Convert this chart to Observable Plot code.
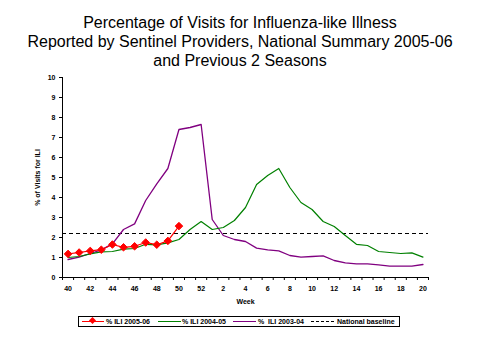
<!DOCTYPE html>
<html><head><meta charset="utf-8">
<script src="https://cdn.jsdelivr.net/npm/d3@7"></script>
<script src="https://cdn.jsdelivr.net/npm/@observablehq/plot@0.6"></script>
<style>
body{margin:0;background:#fff;font-family:"Liberation Sans",Arial,sans-serif;}
#wrap{width:480px;height:360px;position:relative;overflow:hidden;}
#title{height:70px;box-sizing:border-box;padding-top:13px;text-align:center;font-size:16px;line-height:19px;color:#000;}
#chart svg{display:block;}
#legend{position:absolute;left:78px;top:316px;width:320px;height:9px;border:1px solid #000;font-size:7px;font-weight:bold;line-height:9px;}
#legend .sw{position:absolute;top:4px;height:0;border-top:1px solid;}
#legend .tx{position:absolute;top:0;white-space:pre;}
#legend .dm{position:absolute;top:1px;width:5px;height:5px;background:#f00;transform:rotate(45deg);}
</style></head><body>
<div id="wrap">
<div id="title">Percentage of Visits for Influenza-like Illness<br>Reported by Sentinel Providers, National Summary 2005-06<br>and Previous 2 Seasons</div>
<div id="chart"></div>
<div id="legend">
  <div class="sw" style="left:3px;width:22px;border-color:#f00"></div><div class="dm" style="left:11px"></div>
  <div class="tx" style="left:27px">% ILI 2005-06</div>
  <div class="sw" style="left:79px;width:23px;border-color:#008000"></div>
  <div class="tx" style="left:103px">% ILI 2004-05</div>
  <div class="sw" style="left:154px;width:23px;border-color:#800080"></div>
  <div class="tx" style="left:179px">%  ILI 2003-04</div>
  <div class="sw" style="left:232px;width:23px;border-top:1px dashed #000"></div>
  <div class="tx" style="left:258px">National baseline</div>
</div>
</div>
<script>
const weeks = [40,41,42,43,44,45,46,47,48,49,50,51,52,1,2,3,4,5,6,7,8,9,10,11,12,13,14,15,16,17,18,19,20];
const ili0506 = [1.18,1.25,1.33,1.39,1.65,1.51,1.56,1.75,1.64,1.83,2.57];
const ili0405 = [1.0,1.05,1.18,1.28,1.3,1.42,1.45,1.66,1.63,1.73,1.9,2.4,2.8,2.4,2.5,2.85,3.5,4.65,5.1,5.45,4.5,3.75,3.4,2.8,2.55,2.1,1.66,1.6,1.3,1.25,1.2,1.23,1.02];
const ili0304 = [0.9,1.02,1.2,1.38,1.68,2.4,2.68,3.85,4.68,5.45,7.4,7.5,7.65,2.9,2.1,1.9,1.8,1.47,1.38,1.33,1.1,1.02,1.05,1.08,0.85,0.73,0.68,0.68,0.63,0.57,0.57,0.57,0.65];
const baseline = 2.2;
const yTicks = [0,1,2,3,4,5,6,7,8,9,10];

const rows = vals => vals.map((v,i)=>({i, week: weeks[i], v}));
const boundaries = d3.range(-0.5, weeks.length, 1);
const labelIdx = weeks.map((w,i)=>i).filter(i => i % 2 === 0);

const chart = Plot.plot({
  width: 480, height: 240,
  marginLeft: 62, marginRight: 52, marginTop: 7, marginBottom: 33,
  x: {type: "linear", domain: [-0.5, weeks.length - 0.5]},
  y: {domain: [0, 10]},
  style: {fontFamily: "Liberation Sans, Arial, sans-serif", fontSize: "7px", fontWeight: "bold", color: "#000", background: "#fff"},
  marks: [
    Plot.ruleY([baseline], {stroke: "#000", strokeDasharray: "4,3", strokeWidth: 1}),
    Plot.line(rows(ili0304), {x: "i", y: "v", stroke: "#800080", strokeWidth: 1.3}),
    Plot.line(rows(ili0405), {x: "i", y: "v", stroke: "#008000", strokeWidth: 1.2}),
    Plot.line(rows(ili0506), {x: "i", y: "v", stroke: "#ff0000", strokeWidth: 1.2}),
    Plot.dot(rows(ili0506), {x: "i", y: "v", symbol: "diamond2", r: 3.4, fill: "#ff0000", stroke: "#ff0000", strokeWidth: 1}),
    Plot.ruleX([-0.5], {stroke: "#000"}),
    Plot.ruleY([0], {stroke: "#000"}),
    Plot.axisY({ticks: yTicks, tickSize: 3, tickPadding: 4, label: "% of Visits for ILI", labelAnchor: "center", labelArrow: false, labelOffset: 27}),
    Plot.axisX({ticks: boundaries, tickSize: 3, tickFormat: () => "", label: null}),
    Plot.axisX({ticks: labelIdx, tickSize: 0, tickPadding: 9, tickFormat: i => weeks[i], label: "Week", labelAnchor: "center", labelArrow: false, labelOffset: 26})
  ]
});
document.getElementById("chart").appendChild(chart);
</script>
</body></html>
